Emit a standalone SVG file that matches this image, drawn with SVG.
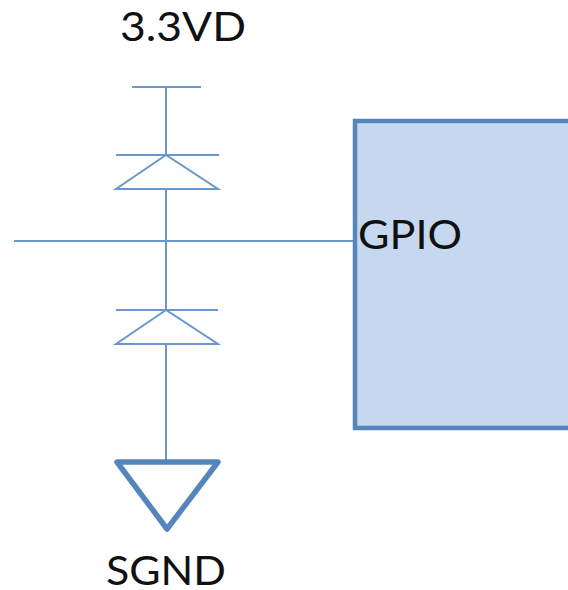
<svg xmlns="http://www.w3.org/2000/svg" width="568" height="590" viewBox="0 0 568 590">
<style>
.w{stroke:#6a97cd;stroke-width:2;fill:none}
.t{font-family:"Lato","Open Sans",sans-serif;font-size:40px;fill:#111}
</style>
<rect width="568" height="590" fill="#fff"/>
<g id="connectors">
<path class="w" d="M132 87H201M166 87V155M116 155H219M166 155L116 189H218ZM166 189V310M14 241H354M116 310H218M166 310L116 344H218ZM166 344V461"/>
</g>
<g id="chip"><path d="M570 121H355V428H570" fill="#c6d8f0" stroke="#5585bd" stroke-width="4.5"/><text class="t" x="358" y="249" textLength="104" lengthAdjust="spacingAndGlyphs">GPIO</text></g>
<g id="vdd"><text class="t" x="120" y="41" textLength="126" lengthAdjust="spacingAndGlyphs">3.3VD</text></g>
<g id="gnd"><path d="M117 462H218L167 529Z" fill="none" stroke="#5585bd" stroke-width="5.5" stroke-linejoin="round"/><text class="t" x="106" y="585" textLength="120" lengthAdjust="spacingAndGlyphs">SGND</text></g>
</svg>
